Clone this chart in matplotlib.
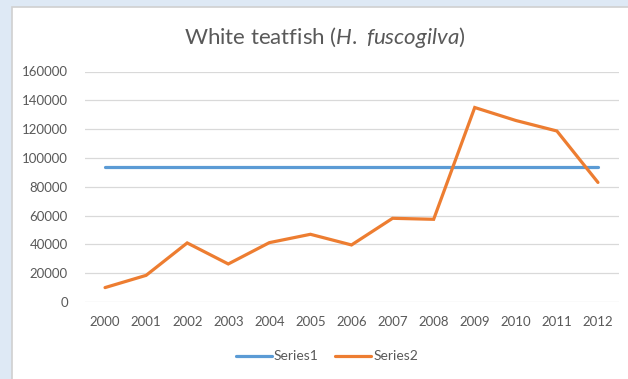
#!/usr/bin/env python3
# white teatfish catch per year, against the long-run average

import matplotlib
matplotlib.use("Agg")
import matplotlib.pyplot as plt
from matplotlib.patches import Rectangle

years = ['2000', '2001', '2002', '2003', '2004', '2005', '2006',
         '2007', '2008', '2009', '2010', '2011', '2012']
series1 = [93700] * 13
series2 = [10000, 18500, 41000, 26400, 41200, 47000, 39600,
           58100, 57400, 135000, 126000, 118700, 83000]

plt.rcParams['font.family'] = ['Lato', 'DejaVu Sans']
plt.rcParams['mathtext.fontset'] = 'custom'
plt.rcParams['mathtext.rm'] = 'Lato'
plt.rcParams['mathtext.it'] = 'Lato:italic'

text_col = '#595959'
grid_col = '#d9d9d9'

fig = plt.figure(figsize=(6.28, 3.79), dpi=100)
fig.patch.set_facecolor('#dee9f5')

# white chart panel with thin grey border
panel = Rectangle((12/628, -0.05), 1.0, 1 - 7/379 + 0.05,
                  transform=fig.transFigure, facecolor='white',
                  edgecolor='#d0d0d0', linewidth=1.2, zorder=0)
fig.patches.append(panel)

ax = fig.add_axes([84.5/628, 1 - 302/379, (618.5 - 84.5)/628, (302 - 71.5)/379])
ax.set_facecolor('none')
ax.set_zorder(2)

x = range(len(years))
ax.plot(x, series1, color='#5b9bd5', lw=2.3, label='Series1', solid_capstyle='round')
ax.plot(x, series2, color='#ed7d31', lw=2.3, label='Series2', solid_capstyle='round',
        solid_joinstyle='miter')

ax.set_xlim(-0.5, len(years) - 0.5)
ax.set_ylim(0, 160000)
ax.set_yticks(range(0, 160001, 20000))
ax.set_xticks(list(x))
ax.set_xticklabels(years)
ax.grid(axis='y', color=grid_col, lw=0.9)
ax.set_axisbelow(True)
for s in ax.spines.values():
    s.set_visible(False)
ax.tick_params(axis='both', length=0, labelsize=9.5, labelcolor=text_col)
ax.tick_params(axis='y', pad=12)
ax.tick_params(axis='x', pad=10)

fig.text(325/628, 1 - 38/379, r'White teatfish ($\mathit{H.}$ $\mathit{fuscogilva}$)',
         ha='center', va='center', fontsize=16, color=text_col, zorder=3)

leg = fig.legend(loc='center', bbox_to_anchor=(327/628, 1 - 356.5/379), ncol=2,
                 frameon=False, fontsize=10, labelcolor=text_col,
                 handlelength=2.6, handletextpad=0.15, columnspacing=1.2)
leg.set_zorder(3)

fig.savefig('out.png', dpi=100)
